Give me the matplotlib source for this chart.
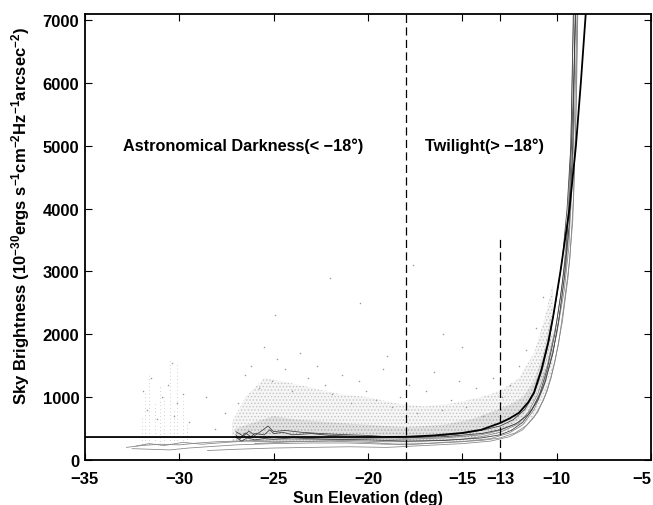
import matplotlib
matplotlib.use("Agg")
import matplotlib.pyplot as plt

plt.rcParams['font.family'] = ['Liberation Sans', 'DejaVu Sans']
plt.rcParams['font.weight'] = 'bold'
plt.rcParams['mathtext.fontset'] = 'custom'
plt.rcParams['mathtext.rm'] = 'Liberation Sans:bold'
plt.rcParams['mathtext.bf'] = 'Liberation Sans:bold'
plt.rcParams['mathtext.default'] = 'bf'
plt.rcParams['hatch.linewidth'] = 0.6

# model curve (sky brightness vs sun elevation)
model_x = [-35, -30, -25, -20, -18, -16.5, -15, -14, -13, -12.5, -12, -11.5, -11.2,
           -10.8, -10.45, -10.18, -9.8, -9.32, -8.98, -8.72, -8.46]
model_y = [365, 365, 365, 365, 368, 390, 430, 480, 588, 660, 750, 920, 1076,
           1447, 1871, 2294, 3000, 4000, 5000, 6000, 7100]

# individual night tracks (thin grey lines); the last three start at -27 deg
tracks = [
    ([-32.8, -32, -31, -30, -29, -28, -27, -26, -25, -24, -22, -20, -18, -16, -14, -13, -12,
      -11.5, -11, -10.5, -10, -9.7, -9.45, -9.25, -9.1],
     [200, 230, 250, 240, 270, 290, 300, 310, 320, 320, 330, 340, 330, 350, 400, 470, 600,
      760, 1050, 1500, 2200, 2800, 3600, 5000, 7100]),
    ([-32.5, -31.5, -30.5, -29.5, -28, -27, -25, -23, -21, -19, -17, -15, -13.5, -12.5, -11.8,
      -11.2, -10.7, -10.2, -9.8, -9.5, -9.25, -9.05, -8.92],
     [180, 170, 160, 190, 220, 240, 260, 270, 270, 250, 260, 290, 340, 430, 560,
      800, 1150, 1700, 2400, 3100, 4000, 5500, 7100]),
    ([-32.3, -31.6, -30.8, -29.8, -28.8, -27.5, -26.5, -25, -23, -21, -19, -17, -15, -14, -13,
      -12, -11.3, -10.8, -10.4, -10, -9.6, -9.35, -9.15, -9.0],
     [220, 260, 230, 280, 250, 280, 300, 290, 300, 310, 290, 300, 330, 370, 440,
      580, 820, 1100, 1500, 2000, 2700, 3400, 4800, 7100]),
    ([-28.5, -27, -25, -23, -21, -19, -17, -15, -13.5, -12.5, -11.8, -11.2, -10.7, -10.3,
      -9.9, -9.6, -9.3, -9.1, -8.95, -8.88],
     [150, 170, 190, 200, 210, 200, 230, 260, 300, 370, 480, 680, 950, 1300,
      1850, 2500, 3200, 4200, 5800, 7100]),
    ([-26, -24, -22, -20, -18, -17, -16, -14, -13, -12.2, -11.6, -11, -10.5, -10.1, -9.7,
      -9.4, -9.15, -9.0, -8.9],
     [260, 290, 300, 280, 240, 260, 280, 310, 350, 430, 550, 760, 1100, 1550, 2200,
      2900, 3800, 5200, 7100]),
    ([-27, -26.8, -26.5, -26.2, -26, -25.5, -25.2, -25, -24.5, -24, -23, -22, -21, -20, -19,
      -18, -17, -16, -15, -14, -13, -12.3, -11.7, -11.2, -10.8, -10.4, -10, -9.7, -9.45,
      -9.25, -9.12],
     [400, 330, 430, 370, 420, 400, 480, 420, 440, 400, 420, 390, 380, 370, 360,
      350, 370, 390, 420, 470, 540, 640, 800, 1050, 1400, 1900, 2600, 3200, 4000,
      5000, 7100]),
    ([-27, -26.6, -26.3, -26, -25.6, -25.3, -25, -24.4, -23.5, -22.5, -21, -20, -19, -18,
      -16, -14, -13, -12.2, -11.5, -11, -10.6, -10.2, -9.9, -9.6, -9.35, -9.15, -9.02],
     [450, 380, 460, 390, 470, 540, 450, 470, 440, 420, 400, 390, 370, 355,
      370, 420, 480, 570, 720, 950, 1250, 1700, 2200, 2900, 3700, 5000, 7100]),
    ([-27, -26.7, -26.4, -26, -25.5, -25, -24, -23, -22, -20, -18, -16, -14, -13, -12.4,
      -11.8, -11.3, -10.9, -10.5, -10.1, -9.8, -9.5, -9.3, -9.1, -9.0],
     [360, 300, 350, 320, 340, 330, 350, 340, 330, 320, 300, 310, 350, 400, 470,
      600, 800, 1050, 1450, 2000, 2600, 3300, 4300, 6000, 7100]),
]
track_colors = ['#858585'] * 5 + ['#3c3c3c'] * 3

# envelopes of the dotted measurement cloud
haze_out_x = [-27.2, -26.5, -25.5, -24.5, -23, -21.5, -20, -18.5, -17, -15.5, -14, -13,
              -12, -11.2, -10.6, -10.2]
haze_out_hi = [600, 1000, 1300, 1250, 1150, 1050, 1000, 900, 850, 900, 1000, 1100,
               1300, 1700, 2300, 2800]
haze_out_lo = [300, 280, 280, 280, 280, 280, 280, 270, 270, 290, 330, 400,
               500, 700, 1000, 1400]
haze_in_x = [-27, -26, -25, -24, -22, -20, -18, -16, -14.5, -13.5, -12.5, -11.8, -11.2,
             -10.7, -10.3]
haze_in_hi = [500, 600, 700, 650, 600, 560, 520, 560, 650, 760, 880, 1000, 1250, 1700, 2300]
haze_in_lo = [330, 330, 330, 330, 320, 320, 310, 320, 360, 430, 540, 700, 950, 1350, 1900]

# vertical streaks of points in the early night
streak_x = [-32.0, -31.8, -31.6, -31.3, -31.0, -30.8, -30.5, -30.3, -30.1, -29.8, -29.6]
streak_top = [700, 1100, 1350, 900, 1200, 1000, 1600, 800, 1550, 1000, 600]
streak_lo = [260, 250, 260, 250, 240, 250, 250, 260, 250, 260, 270]

# isolated measurements
dots_x = [-31.9, -31.7, -31.5, -31.2, -30.9, -30.6, -30.4, -30.3, -30.1, -29.8, -29.5, -28.6,
          -28.1, -27.6, -26.9, -26.5, -26.2, -25.8, -25.5, -25.1, -24.8, -24.4, -24.0, -23.6,
          -23.2, -22.7, -22.3, -21.9, -21.4, -20.9, -20.5, -20.1, -19.6, -19.2, -18.7, -18.3,
          -17.8, -17.4, -16.9, -16.5, -16.1, -15.6, -15.2, -14.8, -14.3, -13.9, -13.4, -12.9,
          -12.5, -12.0, -11.6, -11.1, -10.7, -22.0, -20.4, -17.6, -16.0, -15.0, -24.9, -19.0]
dots_y = [1100, 800, 1300, 650, 1000, 1200, 1550, 700, 900, 1050, 600, 1000,
          500, 750, 900, 1350, 1500, 1150, 1800, 1250, 1600, 1450, 1100, 1700,
          1300, 1500, 1200, 1050, 1350, 900, 1250, 1100, 950, 1450, 850, 1000,
          1200, 750, 1100, 1400, 800, 950, 1250, 850, 1150, 700, 1300, 1000,
          1200, 1500, 1750, 2100, 2600, 2900, 2500, 3100, 2000, 1800, 2300, 1650]

x_ticks = [-35, -30, -25, -20, -15, -13, -10, -5]
y_ticks = [0, 1000, 2000, 3000, 4000, 5000, 6000, 7000]

fig = plt.figure(figsize=(6.53, 5.06), dpi=100)
ax = fig.add_axes([0.130, 0.089, 0.867, 0.882])

ax.vlines(streak_x, streak_lo, streak_top, color='#b5b5b5', lw=0.6,
          linestyles=(0, (0.8, 3.5)))
ax.fill_between(haze_out_x, haze_out_lo, haze_out_hi, facecolor='#f6f6f6',
                edgecolor='#c4c4c4', hatch='.....', lw=0)
ax.fill_between(haze_in_x, haze_in_lo, haze_in_hi, facecolor='#e2e2e2',
                edgecolor='#a8a8a8', hatch='.....', lw=0)
ax.scatter(dots_x, dots_y, s=1.2, color='#999999', linewidths=0)

for (tx, ty), c in zip(tracks, track_colors):
    ax.plot(tx, ty, color=c, lw=0.55)

ax.plot(model_x, model_y, color='black', lw=1.3)

ax.axvline(-18, color='black', lw=0.9, dashes=(6.5, 3.5))
ax.plot([-13, -13], [0, 3550], color='black', lw=0.9, dashes=(6.5, 3.5))

ax.text(-33.0, 5000, 'Astronomical Darkness(< \u221218\u00b0)', fontsize=11.7,
        fontweight='bold', va='center')
ax.text(-17.0, 5000, 'Twilight(> \u221218\u00b0)', fontsize=11.7,
        fontweight='bold', va='center')

ax.set_xlim(-35, -5)
ax.set_ylim(0, 7100)
ax.set_xticks(x_ticks)
ax.set_yticks(y_ticks)
ax.set_xticklabels([str(v).replace('-', '\u2212') for v in x_ticks])
ax.tick_params(direction='in', top=True, right=True, length=5, width=0.8,
               labelsize=12)
ax.tick_params(axis='x', pad=8)
ax.tick_params(axis='y', pad=4)
for lab in ax.get_xticklabels() + ax.get_yticklabels():
    lab.set_fontweight('bold')
# last x label sits inside the figure edge, as in the original
ax.get_xticklabels()[-1].set_horizontalalignment('right')
for sp in ax.spines.values():
    sp.set_linewidth(1.3)

ax.set_xlabel('Sun Elevation (deg)', fontsize=11.5, fontweight='bold', labelpad=3)
ax.set_ylabel(r'Sky Brightness (10$^{-30}$ergs s$^{-1}$cm$^{-2}$Hz$^{-1}$arcsec$^{-2}$)',
              fontsize=12, fontweight='bold')
ax.yaxis.set_label_coords(-0.093, 0.55)

fig.savefig('out.png', dpi=100)
